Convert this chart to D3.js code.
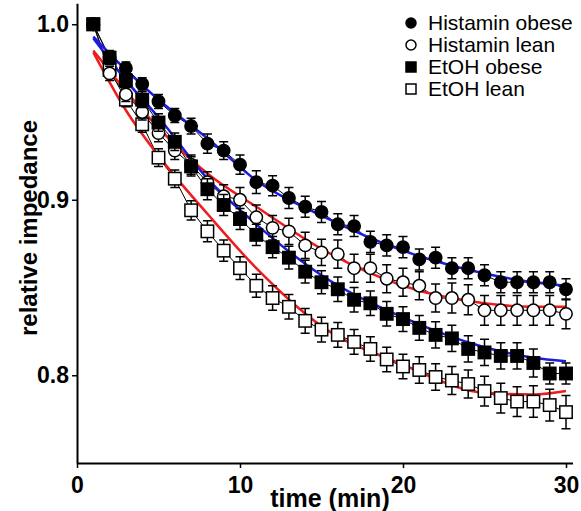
<!DOCTYPE html>
<html lang="en">
<head>
    <meta charset="utf-8">
    <title>Relative impedance</title>
    <script src="https://d3js.org/d3.v7.min.js"></script>
    <style>
        body { margin: 0; background: #fff; }
        svg { font-family: "Liberation Sans", Arial, sans-serif; }
    </style>
</head>
<body>
<div id="chart"></div>
<script>
    // Time points (min)
    const time = d3.range(1, 31);

    // Mean relative impedance per series
    const histObese = [1.000, 0.981, 0.975, 0.966, 0.956, 0.948, 0.942, 0.932, 0.928, 0.920,
        0.910, 0.908, 0.901, 0.896, 0.893, 0.886, 0.885, 0.876, 0.874, 0.873,
        0.866, 0.867, 0.861, 0.861, 0.857, 0.853, 0.853, 0.853, 0.853, 0.849];
    const histLean = [1.000, 0.972, 0.960, 0.950, 0.938, 0.928, 0.920, 0.910, 0.902, 0.900,
        0.890, 0.884, 0.882, 0.874, 0.870, 0.869, 0.861, 0.861, 0.855, 0.853,
        0.851, 0.844, 0.844, 0.843, 0.837, 0.837, 0.837, 0.837, 0.837, 0.835];
    const etohObese = [1.000, 0.981, 0.968, 0.957, 0.944, 0.933, 0.919, 0.906, 0.897, 0.889,
        0.880, 0.873, 0.867, 0.859, 0.853, 0.849, 0.843, 0.841, 0.835, 0.832,
        0.827, 0.823, 0.821, 0.815, 0.813, 0.811, 0.811, 0.807, 0.801, 0.801];
    const etohLean = [1.000, 0.974, 0.957, 0.943, 0.924, 0.912, 0.894, 0.882, 0.871, 0.861,
        0.851, 0.844, 0.839, 0.831, 0.826, 0.823, 0.819, 0.815, 0.809, 0.805,
        0.803, 0.799, 0.797, 0.795, 0.791, 0.787, 0.785, 0.785, 0.783, 0.779];

    // Error (SEM) per series
    const histObeseErr = [0, 0.003, 0.0035, 0.0035, 0.004, 0.004, 0.0045, 0.0055, 0.005, 0.0055,
        0.0065, 0.0057, 0.006, 0.006, 0.006, 0.006, 0.006, 0.006, 0.006, 0.006,
        0.006, 0.006, 0.006, 0.006, 0.006, 0.006, 0.006, 0.006, 0.006, 0.006];
    const histLeanErr = [0, 0.004, 0.004, 0.0045, 0.005, 0.005, 0.0055, 0.006, 0.0065, 0.007,
        0.007, 0.007, 0.0075, 0.0075, 0.0075, 0.008, 0.008, 0.008, 0.008, 0.008,
        0.008, 0.008, 0.0085, 0.0085, 0.0085, 0.0085, 0.0085, 0.0085, 0.0085, 0.0085];
    const etohObeseErr = [0, 0.004, 0.004, 0.0045, 0.005, 0.005, 0.0055, 0.006, 0.006, 0.006,
        0.006, 0.006, 0.0065, 0.0065, 0.0065, 0.007, 0.007, 0.007, 0.007, 0.007,
        0.007, 0.0075, 0.0075, 0.0075, 0.0075, 0.0075, 0.0075, 0.008, 0.006, 0.006];
    const etohLeanErr = [0, 0.004, 0.004, 0.0045, 0.005, 0.005, 0.0055, 0.006, 0.006, 0.0065,
        0.0065, 0.007, 0.007, 0.007, 0.007, 0.007, 0.007, 0.007, 0.007, 0.007,
        0.0075, 0.0075, 0.008, 0.008, 0.0085, 0.0085, 0.0085, 0.009, 0.009, 0.0095];

    // Fitted curves, read at a few time points
    const fitTime = [1, 3, 5, 8, 11, 15, 20, 25, 28, 30];
    const histObeseFit = [0.993, 0.974, 0.957, 0.935, 0.911, 0.891, 0.871, 0.858, 0.853, 0.851];
    const histLeanFit = [0.985, 0.962, 0.941, 0.915, 0.896, 0.872, 0.851, 0.841, 0.839, 0.839];
    const etohObeseFit = [0.992, 0.968, 0.947, 0.912, 0.886, 0.857, 0.833, 0.816, 0.810, 0.808];
    const etohLeanFit = [0.984, 0.951, 0.925, 0.892, 0.861, 0.828, 0.806, 0.790, 0.789, 0.791];

    const xTicks = [0, 10, 20, 30];
    const yTicks = [0.8, 0.9, 1.0];

    const series = [
        {name: "EtOH lean", values: etohLean, err: etohLeanErr, fit: etohLeanFit, shape: "square", filled: false, color: "#ee1c1c"},
        {name: "Histamin lean", values: histLean, err: histLeanErr, fit: histLeanFit, shape: "circle", filled: false, color: "#ee1c1c"},
        {name: "Histamin obese", values: histObese, err: histObeseErr, fit: histObeseFit, shape: "circle", filled: true, color: "#1c1ce0"},
        {name: "EtOH obese", values: etohObese, err: etohObeseErr, fit: etohObeseFit, shape: "square", filled: true, color: "#1c1ce0"}
    ];
    const legendOrder = ["Histamin obese", "Histamin lean", "EtOH obese", "EtOH lean"];

    const width = 581, height = 511;

    const svg = d3.select("#chart")
        .append("svg")
        .attr("width", width)
        .attr("height", height);

    const x = d3.scaleLinear().domain([0, 30.4]).range([77, 77 + 30.4 * 16.3]);
    const y = d3.scaleLinear().domain([0.75, 1.012]).range([463, 463 - 0.262 * 1755]);

    // Axes
    const xAxis = svg.append("g")
        .attr("transform", "translate(0,463)")
        .call(d3.axisBottom(x).tickValues(xTicks).tickSize(5).tickPadding(9).tickSizeOuter(0));
    const yAxis = svg.append("g")
        .attr("transform", "translate(77,0)")
        .call(d3.axisLeft(y).tickValues(yTicks).tickFormat(d3.format(".1f")).tickSize(5).tickPadding(3).tickSizeOuter(0));

    [xAxis, yAxis].forEach(g => {
        g.select(".domain").attr("stroke-width", 2);
        g.selectAll(".tick line").attr("stroke-width", 1.5);
        g.selectAll(".tick text")
            .attr("font-family", "'Liberation Sans', Arial, sans-serif")
            .attr("font-size", 23)
            .attr("font-weight", "bold")
            .attr("fill", "#000");
    });

    // Axis titles
    svg.append("text")
        .attr("x", 330)
        .attr("y", 507)
        .attr("text-anchor", "middle")
        .attr("font-size", 25)
        .attr("font-weight", "bold")
        .text("time (min)");

    svg.append("text")
        .attr("transform", "translate(37,228) rotate(-90)")
        .attr("text-anchor", "middle")
        .attr("font-size", 24)
        .attr("font-weight", "bold")
        .text("relative impedance");

    // Thin connecting lines
    const line = d3.line().x((d, i) => x(time[i])).y(d => y(d));
    series.forEach(s => {
        svg.append("path")
            .attr("d", line(s.values))
            .attr("fill", "none")
            .attr("stroke", "#000")
            .attr("stroke-width", 1);
    });

    // Fitted curves
    const fitLine = d3.line().x((d, i) => x(fitTime[i])).y(d => y(d)).curve(d3.curveMonotoneX);
    series.forEach(s => {
        svg.append("path")
            .attr("d", fitLine(s.fit))
            .attr("fill", "none")
            .attr("stroke", s.color)
            .attr("stroke-width", 2.5);
    });

    // Error bars and markers
    const cap = 4.5, r = 6.2, half = 6.2;
    series.forEach(s => {
        const g = svg.append("g");
        s.values.forEach((v, i) => {
            const e = s.err[i];
            if (e > 0) {
                const cx = x(time[i]);
                g.append("path")
                    .attr("d", `M${cx},${y(v + e)}V${y(v - e)}M${cx - cap},${y(v + e)}H${cx + cap}M${cx - cap},${y(v - e)}H${cx + cap}`)
                    .attr("stroke", "#000")
                    .attr("stroke-width", 1.5)
                    .attr("fill", "none");
            }
        });
        s.values.forEach((v, i) => {
            const cx = x(time[i]), cy = y(v);
            const m = s.shape === "circle"
                ? g.append("circle").attr("cx", cx).attr("cy", cy).attr("r", r)
                : g.append("rect").attr("x", cx - half).attr("y", cy - half).attr("width", 2 * half).attr("height", 2 * half);
            m.attr("fill", s.filled ? "#000" : "#fff")
                .attr("stroke", "#000")
                .attr("stroke-width", 1.5);
        });
    });

    // Legend
    const legend = svg.append("g");
    legendOrder.forEach((name, i) => {
        const s = series.find(d => d.name === name);
        const ly = 23 + i * 22;
        const m = s.shape === "circle"
            ? legend.append("circle").attr("cx", 411).attr("cy", ly).attr("r", 5)
            : legend.append("rect").attr("x", 406).attr("y", ly - 5).attr("width", 10).attr("height", 10);
        m.attr("fill", s.filled ? "#000" : "#fff")
            .attr("stroke", "#000")
            .attr("stroke-width", 1.5);
        legend.append("text")
            .attr("x", 428)
            .attr("y", ly)
            .attr("dy", "0.35em")
            .attr("font-size", 21)
            .text(name);
    });
</script>
</body>
</html>
